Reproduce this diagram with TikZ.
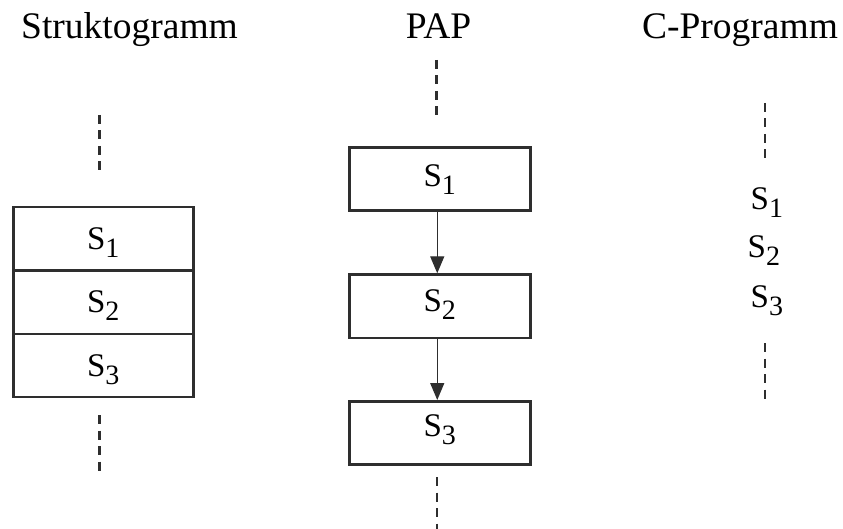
\documentclass[tikz,border=0pt]{standalone}
\usepackage{fontspec}
\setmainfont{Liberation Serif}
\usetikzlibrary{arrows.meta}
\definecolor{ink}{HTML}{2E2E2E}
\newcommand\Sx[1]{\fontsize{33}{33}\selectfont S\raisebox{-8pt}{\fontsize{28}{28}\selectfont #1}}
\begin{document}
\begin{tikzpicture}[x=1pt,y=-1pt,
  box/.style={draw=ink, line width=2.5pt, minimum width=#1, inner sep=0pt,
    text depth=10pt, anchor=north west, text=black},
  title/.style={font=\fontsize{37.5}{37.5}\selectfont, anchor=base, inner sep=0pt},
  dsh/.style={draw=ink, line width=2.4pt, dash pattern=on 9pt off 6.5pt},
  arr/.style={draw=ink, line width=1.4pt, -{Triangle[length=17pt,width=14pt]}},
  clab/.style={anchor=base west, inner sep=0pt}]
\useasboundingbox (0,0) rectangle (843,529);

% titles
\node[title] (t1) at (129.5,39) {Struktogramm};
\node[title] (t2) at (438.5,39) {PAP};
\node[title] (t3) at (740,39) {C-Programm};

% Struktogramm
\node[box=180pt, minimum height=63.3pt, text height=31.2pt] (k1) at (12,206) {\Sx{1}};
\node[box=180pt, minimum height=63.3pt, text height=31.2pt] (k2) at (12,269.3) {\Sx{2}};
\node[box=180pt, minimum height=63.3pt, text height=31.2pt] (k3) at (12,332.6) {\Sx{3}};
\coordinate (ka) at (99.5,115);
\coordinate (kb) at (99.5,172);
\coordinate (kc) at (99.5,415);
\coordinate (kd) at (99.5,472);
\draw[dsh] (ka) -- (kb);
\draw[dsh] (kc) -- (kd);

% PAP
\node[box=181pt, minimum height=63pt, text height=24pt] (p1) at (348,146.5) {\Sx{1}};
\node[box=181pt, minimum height=63.5pt, text height=20pt] (p2) at (348,273.3) {\Sx{2}};
\node[box=181pt, minimum height=63pt, text height=17.4pt] (p3) at (348,400) {\Sx{3}};
\draw[arr] ([xshift=-2.5pt]p1.south) -- ([xshift=-2.5pt]p2.north);
\draw[arr] ([xshift=-2.5pt]p2.south) -- ([xshift=-2.5pt]p3.north);
\coordinate (pa) at (436.5,60);
\coordinate (pb) at (436.5,118);
\coordinate (pc) at (437,477);
\coordinate (pd) at (437,535);
\draw[dsh] (pa) -- (pb);
\draw[dsh] (pc) -- (pd);

% C-Programm
\node[clab] (c1) at (750.5,210) {\Sx{1}};
\node[clab] (c2) at (747.5,258) {\Sx{2}};
\node[clab] (c3) at (750.5,307) {\Sx{3}};
\coordinate (ca) at (765,103);
\coordinate (cb) at (765,159);
\coordinate (cc) at (765,343);
\coordinate (cd) at (765,400);
\draw[dsh] (ca) -- (cb);
\draw[dsh] (cc) -- (cd);
\end{tikzpicture}
\end{document}
